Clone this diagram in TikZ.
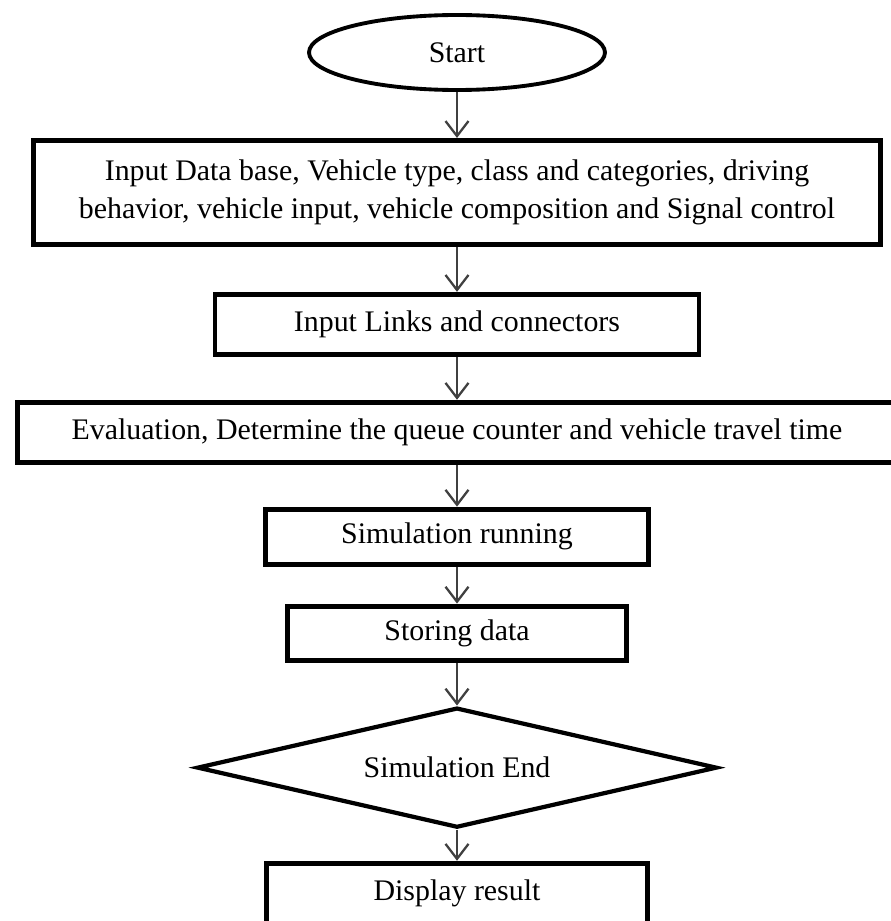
\documentclass[tikz,border=0pt]{standalone}
\usepackage{fontspec}
\setmainfont{Liberation Serif}
\usepackage{tikz}
\usetikzlibrary{arrows.meta,positioning,shapes.geometric}

\begin{document}
\begin{tikzpicture}[node distance=0.9cm,
  font=\fontsize{17}{21.5}\selectfont,
  stepbox/.style={draw,line width=2.8pt,align=center,inner sep=0pt,minimum height=1.2cm},
  terminal/.style={draw,ellipse,line width=2.2pt,inner sep=0pt,minimum width=5.92cm,minimum height=1.5cm},
  decision/.style={draw,diamond,aspect=4.3,line width=2.4pt,inner sep=0pt,minimum width=10.4cm,minimum height=2.4cm},
  flowline/.style={-{Straight Barb[length=3mm,width=4.6mm]},line width=1.3pt,black!75}]
  \useasboundingbox (0,0) rectangle (17.82,-18.42);
  \node[terminal] (start) at (9.14,-1.05) {Start};
  \node[stepbox,minimum width=16.94cm,minimum height=2.08cm,below=0.92cm of start] (input){Input Data base, Vehicle type, class and categories, driving\\behavior, vehicle input, vehicle composition and Signal control};
  \node[stepbox,minimum width=9.68cm,below=0.9cm of input] (links){Input Links and connectors};
  \node[stepbox,minimum width=17.58cm,below=0.86cm of links] (eval){Evaluation, Determine the queue counter and vehicle travel time};
  \node[stepbox,minimum width=7.66cm,minimum height=1.1cm,below=0.84cm of eval] (run){Simulation running};
  \node[stepbox,minimum width=6.78cm,minimum height=1.08cm,below=0.74cm of run] (store){Storing data};
  \node[decision,below=0.86cm of store] (simend){Simulation End};
  \node[stepbox,minimum width=7.62cm,below=0.62cm of simend] (result){Display result};
  \foreach \a/\b in {start/input,input/links,links/eval,eval/run,run/store,store/simend,simend/result}
    \draw[flowline] (\a) -- (\b);
\end{tikzpicture}
\end{document}
